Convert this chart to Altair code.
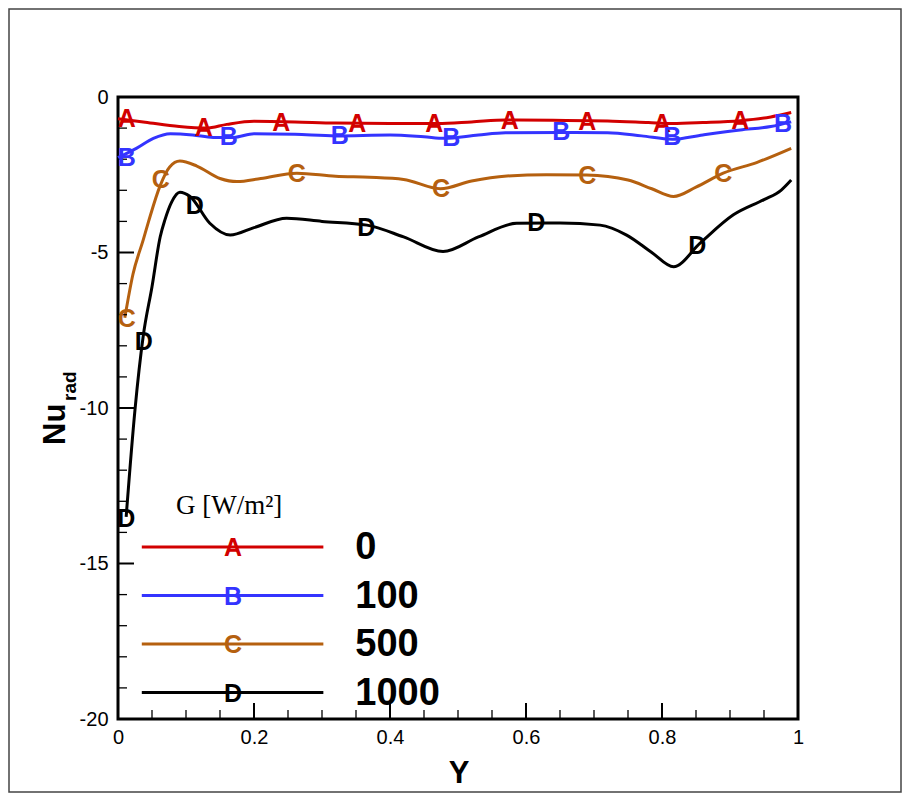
import altair as alt
import pandas as pd

# ---------------- data ----------------
SERIES = ["0", "100", "500", "1000"]          # G [W/m2]
SYMBOLS = ["A", "B", "C", "D"]
COLORS = ["#d20000", "#3434ff", "#b5600f", "#000000"]

# curve G = 0 (A)
Y_A = [0.0, 0.04, 0.09, 0.13, 0.16, 0.2, 0.26, 0.32, 0.4, 0.47, 0.52, 0.57,
       0.64, 0.72, 0.78, 0.815, 0.86, 0.915, 0.96, 0.99]
NU_A = [-0.70, -0.81, -0.95, -1.0, -0.88, -0.78, -0.80, -0.84, -0.85, -0.85,
        -0.80, -0.74, -0.75, -0.77, -0.82, -0.85, -0.82, -0.76, -0.64, -0.50]

# curve G = 100 (B)
Y_B = [0.0, 0.027, 0.052, 0.077, 0.11, 0.14, 0.17, 0.2, 0.26, 0.32, 0.4, 0.45,
       0.48, 0.53, 0.57, 0.65, 0.72, 0.77, 0.815, 0.86, 0.915, 0.96, 0.99]
NU_B = [-1.95, -1.65, -1.33, -1.18, -1.22, -1.30, -1.30, -1.18, -1.20, -1.25,
        -1.22, -1.28, -1.33, -1.22, -1.15, -1.14, -1.15, -1.25, -1.36, -1.22,
        -1.06, -0.95, -0.80]

# curve G = 500 (C)
Y_C = [0.01, 0.022, 0.037, 0.045, 0.062, 0.076, 0.091, 0.116, 0.15, 0.175,
       0.21, 0.263, 0.32, 0.37, 0.42, 0.474, 0.52, 0.572, 0.63, 0.689, 0.75,
       0.785, 0.817, 0.85, 0.89, 0.94, 0.99]
NU_C = [-7.1, -5.7, -4.6, -4.0, -2.85, -2.25, -2.06, -2.22, -2.62, -2.72,
        -2.62, -2.45, -2.55, -2.58, -2.65, -2.95, -2.7, -2.54, -2.5, -2.51,
        -2.67, -2.95, -3.2, -2.9, -2.45, -2.1, -1.65]

# curve G = 1000 (D)
Y_D = [0.012, 0.025, 0.037, 0.05, 0.062, 0.069, 0.079, 0.091, 0.106, 0.135,
       0.165, 0.2, 0.248, 0.3, 0.366, 0.42, 0.478, 0.53, 0.586, 0.65, 0.709,
       0.748, 0.785, 0.817, 0.856, 0.905, 0.95, 0.975, 0.99]
NU_D = [-13.5, -10.05, -7.7, -6.1, -4.5, -3.95, -3.37, -3.06, -3.2, -4.06,
        -4.44, -4.2, -3.9, -4.0, -4.12, -4.5, -4.97, -4.5, -4.06, -4.05, -4.12,
        -4.44, -5.0, -5.46, -4.7, -3.79, -3.3, -3.0, -2.67]

# symbol (letter marker) locations
MK_Y_A = [0.013, 0.126, 0.24, 0.352, 0.465, 0.576, 0.69, 0.8, 0.915]
MK_NU_A = [-0.66, -0.96, -0.80, -0.84, -0.84, -0.74, -0.77, -0.84, -0.74]
MK_Y_B = [0.013, 0.163, 0.326, 0.49, 0.652, 0.815, 0.978]
MK_NU_B = [-1.93, -1.25, -1.22, -1.29, -1.09, -1.25, -0.84]
MK_Y_C = [0.013, 0.063, 0.263, 0.475, 0.69, 0.89]
MK_NU_C = [-7.1, -2.64, -2.44, -2.93, -2.51, -2.44]
MK_Y_D = [0.012, 0.038, 0.113, 0.365, 0.615, 0.852]
MK_NU_D = [-13.54, -7.85, -3.47, -4.18, -4.02, -4.76]

X_TICKS = [0, 0.2, 0.4, 0.6, 0.8, 1]
X_MINOR = [0.05, 0.1, 0.15, 0.25, 0.3, 0.35, 0.45, 0.5, 0.55, 0.65, 0.7, 0.75,
           0.85, 0.9, 0.95]
Y_TICKS = [-20, -15, -10, -5, 0]
Y_MINOR = [-19, -18, -17, -16, -14, -13, -12, -11, -9, -8, -7, -6, -4, -3, -2, -1]

LEGEND_TITLE = "G [W/m²]"
X_TITLE = "Y"
Y_TITLE_MAIN = "Nu"
Y_TITLE_SUB = "rad"

# ---------------- layout ----------------
W, H = 680, 622
FONT = "Liberation Sans"
MAJOR_LEN, MINOR_LEN = 16, 9
# legend placement (data units of the plot)
LEG_X0, LEG_X1, LEG_XM, LEG_XT = 0.035, 0.302, 0.169, 0.349
LEG_Y0, LEG_DY = -14.47, -1.56

curves = [(Y_A, NU_A), (Y_B, NU_B), (Y_C, NU_C), (Y_D, NU_D)]
marks = [(MK_Y_A, MK_NU_A), (MK_Y_B, MK_NU_B), (MK_Y_C, MK_NU_C), (MK_Y_D, MK_NU_D)]

rows = []
for i, (ys_, vs) in enumerate(curves):
    for k, (y, v) in enumerate(zip(ys_, vs)):
        rows.append({"G": SERIES[i], "Y": y, "Nu": v, "order": k})
line_df = pd.DataFrame(rows)

rows = []
for i, (ys_, vs) in enumerate(marks):
    for y, v in zip(ys_, vs):
        rows.append({"G": SERIES[i], "Y": y, "Nu": v, "sym": SYMBOLS[i]})
mark_df = pd.DataFrame(rows)

leg_df = pd.DataFrame({
    "G": SERIES,
    "sym": SYMBOLS,
    "x0": [LEG_X0] * 4,
    "x1": [LEG_X1] * 4,
    "xm": [LEG_XM] * 4,
    "xt": [LEG_XT] * 4,
    "y": [LEG_Y0 + LEG_DY * i for i in range(4)],
})

xmaj_df = pd.DataFrame({"v": X_TICKS})
xmin_df = pd.DataFrame({"v": X_MINOR})
ymaj_df = pd.DataFrame({"v": Y_TICKS})
ymin_df = pd.DataFrame({"v": Y_MINOR})

xs = alt.Scale(domain=[0, 1], nice=False, zero=False)
ys = alt.Scale(domain=[-20, 0], nice=False, zero=False)
cs = alt.Color("G:N", scale=alt.Scale(domain=SERIES, range=COLORS), legend=None)

common = dict(grid=False, domain=False, title=None)
AX_X = alt.Axis(orient="bottom", values=X_TICKS, ticks=False, labelFont=FONT,
                labelFontSize=20, labelPadding=8, labelColor="black",
                labelExpr="'' + datum.value", labelFlush=False, **common)
AX_Y = alt.Axis(orient="left", values=Y_TICKS, ticks=False, labelFont=FONT,
                labelFontSize=20, labelPadding=10, labelColor="black",
                labelExpr="'' + datum.value", labelFlush=False, **common)


def X(field):
    return alt.X(field, scale=xs, axis=AX_X)


def Yc(field):
    return alt.Y(field, scale=ys, axis=AX_Y)


lines = alt.Chart(line_df).mark_line(strokeWidth=3, interpolate="monotone").encode(
    x=X("Y:Q"), y=Yc("Nu:Q"), color=cs, detail="G:N", order="order:Q",
)

symbols = alt.Chart(mark_df).mark_text(font=FONT, fontSize=25, fontWeight="bold",
                                       baseline="middle", align="center", dy=1).encode(
    x=X("Y:Q"), y=Yc("Nu:Q"), text="sym:N", color=cs,
)


# inward-pointing ticks
def xtick(df, length, width):
    return alt.Chart(df).mark_rule(color="black", strokeWidth=width).encode(
        x=X("v:Q"), y=alt.value(H), y2=alt.value(H - length))


def ytick(df, length, width):
    return alt.Chart(df).mark_rule(color="black", strokeWidth=width).encode(
        y=Yc("v:Q"), x=alt.value(0), x2=alt.value(length))


ticks = [xtick(xmaj_df, MAJOR_LEN, 2), xtick(xmin_df, MINOR_LEN, 1.3),
         ytick(ymaj_df, MAJOR_LEN, 2), ytick(ymin_df, MINOR_LEN, 1.3)]

leg_lines = alt.Chart(leg_df).mark_rule(strokeWidth=3).encode(
    x=X("x0:Q"), x2="x1:Q", y=Yc("y:Q"), color=cs,
)
leg_syms = alt.Chart(leg_df).mark_text(font=FONT, fontSize=25, fontWeight="bold",
                                       baseline="middle", align="center", dy=1).encode(
    x=X("xm:Q"), y=Yc("y:Q"), text="sym:N", color=cs,
)
leg_labels = alt.Chart(leg_df).mark_text(font=FONT, fontSize=38, fontWeight="bold",
                                         baseline="middle", align="left", color="black",
                                         dy=1).encode(
    x=X("xt:Q"), y=Yc("y:Q"), text="G:N",
)

one = pd.DataFrame({"k": [0]})
leg_title = alt.Chart(one).mark_text(text=LEGEND_TITLE, font="Liberation Serif", fontSize=27,
                                     align="left", baseline="alphabetic",
                                     color="black").encode(
    x=alt.value(58), y=alt.value(417))
x_title = alt.Chart(one).mark_text(text=X_TITLE, font=FONT, fontSize=31, fontWeight="bold",
                                   align="center", baseline="alphabetic",
                                   color="black").encode(
    x=alt.value(341), y=alt.value(686))
y_title = alt.Chart(one).mark_text(text=Y_TITLE_MAIN, font=FONT, fontSize=31, fontWeight="bold",
                                   align="left", baseline="alphabetic", angle=270,
                                   color="black").encode(
    x=alt.value(-53), y=alt.value(348))
y_sub = alt.Chart(one).mark_text(text=Y_TITLE_SUB, font=FONT, fontSize=19, fontWeight="bold",
                                 align="left", baseline="alphabetic", angle=270,
                                 color="black").encode(
    x=alt.value(-42), y=alt.value(304))
frame = alt.Chart(one).mark_rect(fill=None, stroke="#444444", strokeWidth=1.5).encode(
    x=alt.value(-109), x2=alt.value(783), y=alt.value(-88), y2=alt.value(695))

chart = alt.layer(
    lines, *ticks, symbols, leg_lines, leg_syms, leg_labels, leg_title,
    x_title, y_title, y_sub, frame,
).properties(
    width=W, height=H,
    autosize=alt.AutoSizeParams(type="none"),
    padding={"left": 110, "top": 89, "right": 104, "bottom": 74},
    background="white",
).configure_view(stroke="black", strokeWidth=3)

chart.save("out.html", embed_options={"renderer": "svg", "actions": False})
